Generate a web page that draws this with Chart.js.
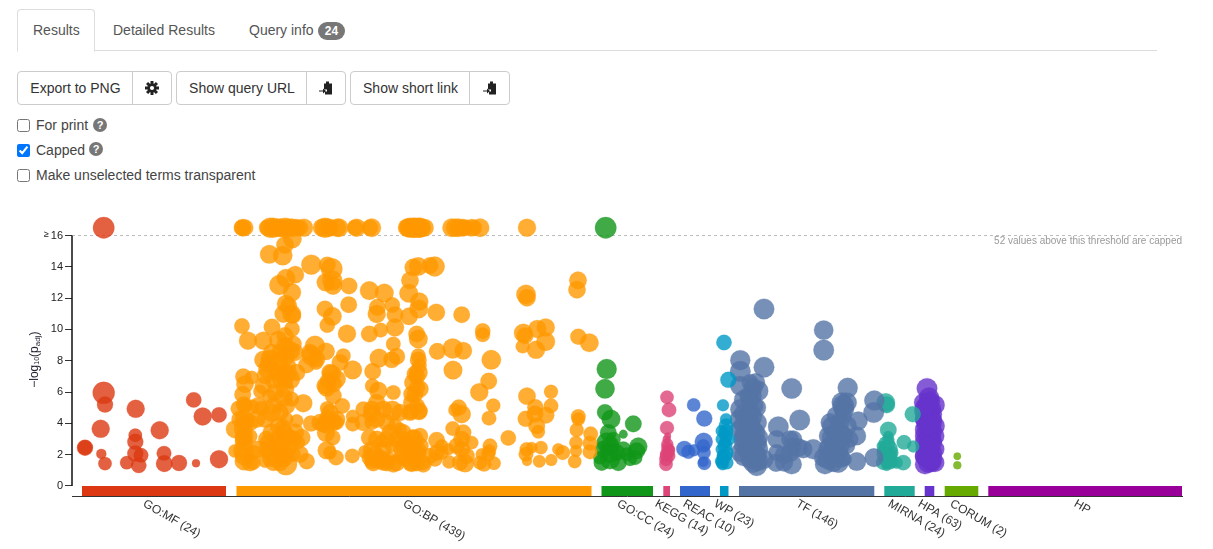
<!DOCTYPE html>
<html>
<head>
<meta charset="utf-8">
<style>
html,body{margin:0;padding:0;background:#fff;overflow:hidden;}
body{width:1213px;height:549px;position:relative;font-family:"Liberation Sans",Arial,sans-serif;font-size:14px;color:#333;}
.abs{position:absolute;white-space:nowrap;}
.tabline{left:17px;top:50px;width:1140px;height:1px;background:#ddd;}
.tab{left:17px;top:9px;width:76px;height:41px;border:1px solid #ddd;border-bottom:1px solid #fff;border-radius:4px 4px 0 0;background:#fff;}
.tabtxt{top:22px;color:#555;line-height:16px;}
.badge{left:318px;top:22px;width:27px;height:18px;border-radius:9px;background:#777;color:#fff;font-weight:bold;font-size:12px;line-height:18px;text-align:center;}
.btn{top:71px;height:32px;border:1px solid #ccc;background:#fff;color:#333;line-height:32px;text-align:center;box-sizing:content-box;}
.l{border-radius:4px 0 0 4px;}
.r{border-radius:0 4px 4px 0;}
.btn svg{position:absolute;left:50%;top:50%;transform:translate(-50%,-50%);}
input{position:absolute;left:17px;margin:0;width:13px;height:13px;}
.lbl{left:36px;line-height:16px;color:#444;}
.q{width:14px;height:14px;border-radius:50%;background:#777;color:#fff;font-size:11px;font-weight:bold;line-height:14px;text-align:center;}
canvas{position:absolute;left:0;top:201px;}
</style>
</head>
<body>
<div class="abs tabline"></div>
<div class="abs tab"></div>
<div class="abs tabtxt" style="left:33px">Results</div>
<div class="abs tabtxt" style="left:113px">Detailed Results</div>
<div class="abs tabtxt" style="left:249px">Query info</div>
<div class="abs badge">24</div>

<div class="abs btn l" style="left:17px;width:115px">Export to PNG</div>
<div class="abs btn r" style="left:132px;width:38px"><svg width="14" height="14" viewBox="-7 -7 14 14"><g fill="#222"><circle r="4.6"/><rect x="-1.5" y="-7" width="3" height="14"/><rect x="-1.5" y="-7" width="3" height="14" transform="rotate(45)"/><rect x="-1.5" y="-7" width="3" height="14" transform="rotate(90)"/><rect x="-1.5" y="-7" width="3" height="14" transform="rotate(135)"/></g><circle r="2.1" fill="#fff"/></svg></div>
<div class="abs btn l" style="left:176px;width:130px">Show query URL</div>
<div class="abs btn r" style="left:306px;width:38px"><svg width="14" height="15" viewBox="0 0 14 15"><path fill="#222" d="M5 3h2V1h3v2h3v11H6v-3h2V9H5z"/><path fill="#222" d="M0 10h4V8l3 2.500-3 2.500v-2H0z"/></svg></div>
<div class="abs btn l" style="left:350px;width:119px">Show short link</div>
<div class="abs btn r" style="left:469px;width:39px"><svg width="14" height="15" viewBox="0 0 14 15"><path fill="#222" d="M5 3h2V1h3v2h3v11H6v-3h2V9H5z"/><path fill="#222" d="M0 10h4V8l3 2.500-3 2.500v-2H0z"/></svg></div>

<input type="checkbox" style="top:119px">
<div class="abs lbl" style="top:117px">For print</div>
<div class="abs q" style="left:93px;top:118px">?</div>
<input type="checkbox" checked style="top:144px">
<div class="abs lbl" style="top:142px">Capped</div>
<div class="abs q" style="left:89px;top:142px">?</div>
<input type="checkbox" style="top:169px">
<div class="abs lbl" style="top:167px">Make unselected terms transparent</div>

<canvas id="c" width="1213" height="349" style="width:1213px;height:349px"></canvas>

<script src="https://cdn.jsdelivr.net/npm/chart.js@4"></script>
<script>
// Each term: [position along the source axis, -log10(p_adj), term-size]
const goMfTerms = [[31.7,16.5,10.7],[31.7,5.95,11],[33,5.2,8],[28.7,3.65,9],[13,2.45,8],[13,2.45,7.3],[29.3,2.05,5],[33,1.43,6.7],[63.7,4.93,9],[63.3,3.24,6.7],[63.3,2.82,8],[63.3,2.07,8],[69,1.96,7.3],[66.7,1.32,7.7],[54.7,1.49,6.7],[87.7,3.56,9],[92,2.09,7.3],[92.3,1.43,8.3],[107,1.47,8],[124,1.45,4],[121.7,5.5,7.7],[130.7,4.44,9],[147,4.54,7.7],[147,1.71,9]];
const goBpCapped = [[170.7,16.5,8.7],[173,16.5,8.3],[198,16.5,10],[201.3,16.5,10],[208,16.5,9.3],[213,16.5,10],[219.7,16.5,9.3],[224.7,16.5,8.7],[232,16.5,9],[253,16.5,10],[256.3,16.5,9.3],[267,16.5,9.3],[284.7,16.5,9],[299.7,16.5,9.3],[336.3,16.5,9.3],[341.3,16.5,10],[346.3,16.5,10],[338,16.5,10],[343,16.5,10],[348,16.5,10],[353,16.5,8.7],[379.7,16.5,9.3],[386.3,16.5,9.3],[391.3,16.5,8.7],[399.7,16.5,8.7],[408,16.5,9.3],[455,16.5,9],[195,16.5,8],[205,16.5,9],[211,16.5,8],[216,16.5,9],[222,16.5,8],[228,16.5,8],[170,16.5,8],[250,16.5,9],[258,16.5,8],[265,16.5,9],[283,16.5,8],[298,16.5,8],[335,16.5,9],[339,16.5,9],[345,16.5,9],[350,16.5,9],[383,16.5,9],[389,16.5,8],[393,16.5,8],[402,16.5,8]];
const goBpTerms = [[170,10.22,7.7],[176,9.28,9],[191.3,9.28,9],[197.3,14.8,9.3],[210.7,14.72,9.7],[220.3,15.79,9.3],[213,15.4,8.7],[207.3,12.84,10],[214,13.27,9.3],[223.3,13.5,8.7],[220,12.37,9],[214,11.63,9],[216.7,11.52,8.3],[211.3,10.99,8.7],[219.7,10.99,9.3],[221.3,10.88,7.7],[220,10.03,7.7],[200,10.15,8.3],[206.3,9.32,9],[213,8.96,8.7],[221.3,9.07,8.3],[218.7,8.64,9.3],[191.3,8.06,9],[198,8.11,9.3],[206.3,7.89,10],[214.7,7.68,9.3],[196.3,7.47,10],[201.3,6.72,8],[193,7.04,8.3],[218,6.83,10],[171.3,7,8],[173,6.51,8.7],[179.7,6.93,6.7],[170.7,5.85,8.3],[188,6.04,6.7],[197.3,5.72,7.3],[213,6.19,9],[211.3,5.65,9.3],[214.7,5.12,8.3],[219.7,5.55,7.3],[231.3,5.29,9],[166.3,4.95,7.7],[179.7,5.06,7.3],[173,5.12,7.3],[189.7,4.97,7.3],[199.7,4.69,9.3],[214.7,4.27,6.7],[224.7,4.16,6.7],[163,3.63,9],[172,4.27,9],[174.7,4.16,8.3],[171.3,3.63,9.3],[178,3.16,7.3],[171.3,2.99,8.3],[199.7,3.41,9],[211.3,3.73,8.3],[223,3.41,9],[229.7,3.09,8.7],[218,3.2,6.7],[226.3,2.77,6.7],[163,2.24,6.7],[171.3,2.24,10],[181.3,2.13,7.7],[172,1.6,9.3],[181.3,1.49,7.3],[198,2.24,9.3],[193,1.6,6.7],[206.3,2.56,9],[201.3,1.49,8.3],[213,2.03,9.3],[221.3,2.03,7.3],[214,1.39,11],[234.7,1.58,8],[239,3.99,8],
[239.3,14.14,10],[255.3,14.12,8.3],[259.7,13.87,10.7],[253.7,13.01,9],[260.3,13.12,10],[261,12.8,9],[277,12.78,8.3],[276.7,11.58,8.3],[253,11.31,8.3],[260.3,10.84,9.3],[255.3,10.28,7.7],[275,9.73,9],[243,8.96,10],[254,8.6,8.7],[239.7,8.32,10],[234.7,7.74,8.3],[244,7.89,7.3],[271.3,8.32,7.3],[268,7.89,8.3],[280.7,7.42,9.3],[259.7,7.15,9.3],[264.7,6.83,9],[256.3,6.72,8.3],[254.7,6.29,9],[261.3,5.76,8.3],[270.3,5.12,7.7],[255.3,4.95,7.3],[254.7,4.37,7.3],[251.3,3.95,8.3],[264.7,4.05,7.3],[254.7,3.95,9.3],[280.7,4.44,6.7],[280.7,3.95,7.3],[260.7,3.09,7.7],[254.7,2.28,9],[264,1.81,7.7],[258,2.13,6.7],[280.3,1.92,7.3],
[297.3,12.48,9.3],[312.3,12.33,9.3],[297.3,9.71,8.3],[308.7,9.96,7.3],[305.3,11.41,8.3],[304.7,10.99,9],[320.3,11.56,7.7],[323,10.94,8.3],[323,10.13,9],[321.3,9.07,7.3],[324.7,8.28,8.3],[307,8.17,9.3],[319.7,8.06,8.3],[300.7,7.32,8.3],[300.3,6.4,7.3],[306.3,6.08,9],[291.3,4.91,7.7],[299.7,4.91,8.3],[321.3,5.97,7.3],[320.3,4.8,10],[299.7,4.05,7.3],[323,3.84,7.3],[297.3,3.09,8.3],[293,2.18,6.7],[309.7,2.88,6.7],[306.3,1.71,9.3],[319.7,2.56,6.7],[311.3,2.35,8.3],[321.3,1.39,8.3],[328,3.63,6.7],[298,1.81,8.3],[341.3,3.09,7.3],[338,2.45,8.3],[339.7,1.49,9.3],[331.3,1.71,6.7],[351.3,1.39,8.3],[346.3,8.32,7.3],
[341.3,13.97,8.7],[346.3,14.02,9.3],[338,13.14,8.7],[336.7,12.31,9.3],[347.3,11.78,9],[346.7,11.31,9.3],[337,10.84,8.7],[344.7,9.71,8.3],[346.3,9.39,9.3],[346.3,8.04,8.3],[347.3,7.68,7.3],[343,7.15,8.3],[341.3,6.61,9],[339.7,5.87,8.3],[347.3,4.8,8.3],[338.7,4.74,7.7],[358,14.08,8.3],
[362.7,14.02,10],[364.3,11.09,8.7],[365.3,8.6,8.3],[380.7,8.79,10],[391.3,8.64,8.7],[389.7,10.94,8.3],[381,7.4,9.3],[410.7,9.9,7.7],[410.7,9.66,7.3],[419.3,8.06,9.7],[416.7,6.7,8.3],[407.3,5.99,9],[421.3,5.14,7],[417,4.33,7.3],[386.7,5.01,8],[389.7,4.59,9],[383,4.86,6.7],[380.7,3.67,7.3],[364.7,2.92,8.3],[369.7,2.56,6.7],[376.3,2.35,6],[389.7,2.99,8.3],[399.7,2.77,6.7],[389.7,2.35,8.3],[393,1.45,9],[377,1.54,6.7],[363,1.71,7.3],[409.7,2.03,6],[418,2.56,7.3],[417.3,2.24,6.7],[412,1.39,7.3],[422,1.45,6.7],[436.3,3.07,7.7],
[454,12.24,9.7],[455,12.03,8.7],[451.3,9.77,9.3],[453,9.6,8.3],[465.3,10.03,9],[473.7,10.13,9],[473.7,9.22,9.3],[450.7,8.92,7],[464,8.7,9],[455,5.74,8.7],[463.3,5.03,8],[453.7,4.29,8],[463,4.59,8.3],[474,4.52,8.3],[479,6.02,7],[479,5.12,7.3],[464.7,3.84,8.3],[466.3,3.46,6.7],[454,2.03,7.3],[459.7,2.45,5.7],[469,2.45,6.7],[455,1.6,5],[467.3,1.58,6.3],[479.3,1.66,6],[486.3,2.35,6],[490.7,2.13,7.3],[506,13.14,8.7],[505,12.54,8.7],[506.3,9.54,8],[517.3,9.15,9.3],[506.3,4.44,7.3],[506.3,4.27,6.7],[504.7,3.58,7],[504,2.77,6.7],[504,2.24,6],[502.7,1.56,6.7],[518.7,3.33,7.3],[518,2.73,7.3],[518,2.18,7.3],
[341.3,2.99,10],[334.7,2.77,8.3],[344.7,2.24,10],[339,1.49,8.3],[351.3,1.49,7.3],[331.3,3.41,8.3],[338,4.69,8.3],[347,4.74,8.3],[346.3,7.25,9.3],[343,5.87,8.3],
[172,3.2,9],[172,2.8,9],[172,1.9,9],[172,5.2,8],[171,3.9,8],[212,2.9,9],[212,3.4,9],[209,2.2,9],[212,1.8,9],[216,7.2,9],[214,8.3,9],[213,6.7,8],[206,3,9],[218,2.5,8],[300,2.3,9],[303,2,9],[300,4.6,9],[300,1.6,8],[309,1.7,9],[345,6.3,8],[345,7,8],[345,5.1,8],[197,7.8,9],[196,2.8,8],[199,1.8,9],[254,3.4,9],[344,2,9],[340,1.9,8],[316,1.7,8],[330,1.9,8],[311,1.5,8],
[168,4.27,8.5],[178,4.05,8.5],[184.7,4.27,8.5],[186.3,5.12,8.5],[193,4.27,8.5],[194.7,2.99,8.5],[206.3,3.84,8.5],[208,4.69,8.5],[201.3,5.12,8.5],[203,5.97,8.5],[191.3,6.4,8.5],[208,6.83,8.5],[213,7.25,8.5],[204.7,7.25,8.5],[199.7,8.53,8.5],[208,8.53,8.5],[213,9.6,8.5],[224.7,7.25,8.5],[223,8.53,8.5],[186.3,2.35,8.5],[178,1.49,8.5],[208,1.49,8.5],[194.7,2.35,8.5],[221.3,2.99,8.5],[228,2.03,8.5],
[291.3,4.05,8.5],[304.7,4.27,8.5],[311.3,4.91,8.5],[304.7,5.33,8.5],[328,4.69,8.5],[314.7,4.05,8.5],[304.7,2.99,8.5],[318,3.41,8.5],[314.7,1.49,8.5],[329.7,2.35,8.5],[301.3,1.49,8.5],[324.7,1.49,8.5],[344.7,2.13,8.5],[344.7,1.49,8.5],[348,2.56,8.5],[348,6.19,8.5],[339.7,5.33,8.5],[314.7,2.99,8.5],[324.7,2.99,8.5],[331.3,2.99,8.5],[258,4.69,8.5],[261.3,4.05,8.5],[248,4.05,8.5],[264.7,4.27,8.5],[258,7.25,8.5],[261.3,6.51,8.5],[253,6.4,8.5],[238,8.53,8.5],[244.7,8.11,8.5],
[384.7,2.56,8],[394.7,1.92,8],[388,1.49,8],[391.3,3.41,8],[331.3,2.56,8],[348,3.2,8],[358,1.92,8],[364.7,2.13,8],[369.7,2.13,7],[454.7,2.35,7],[408,1.49,7],[416.3,2.03,7]];
const goCcTerms = [[533.7,16.5,10.7],[534.7,7.47,10],[533,6.21,9.7],[533,4.71,8],[539,4.27,9.3],[561.3,3.97,8.3],[536.3,3.41,8.3],[551.3,3.31,4.3],[534.7,2.77,10],[531.3,2.35,8.3],[538,2.13,10],[529.7,1.49,8],[544.7,2.13,8.3],[538,1.71,10],[546.3,1.49,8.3],[551.3,2.35,7.7],[558,1.71,6.7],[563,1.81,7.3],[566.3,2.52,9],[564.7,2.24,8.3],[541.3,2.99,7.3],[528,1.81,6.7],[554.7,2.03,6.7],[538,2.56,9.3]];
const keggTerms = [[595,5.67,6.7],[597,4.86,7.3],[595,3.71,7],[595.3,2.67,6],[596.3,2.24,6.7],[594.7,2.03,6.7],[594,1.71,6.7],[594,1.39,6.7],[597.3,1.92,6],[593,1.92,5],[595.3,2.45,6],[598,2.35,5],[594.7,2.99,4],[595.7,3.2,3.3]];
const reacTerms = [[621.7,5.18,6.7],[632.3,4.31,8],[631.7,2.82,9],[612.3,2.37,8],[616.3,2.18,7],[622,2.28,6],[632,2.13,6.7],[632.3,1.45,6.7],[631.3,1.54,5],[631.3,2.56,6.7]];
const wpTerms = [[652,9.17,7.7],[656.3,6.78,8],[651,5.16,6],[654,4.27,6],[654,3.84,7.3],[649.7,3.52,6],[654.7,3.52,6.7],[656.3,2.99,6.7],[649.7,2.99,6],[653,2.56,7.3],[649.7,2.35,6],[654.7,2.13,6.7],[651.3,1.71,6.7],[648,1.6,5],[654.7,1.49,6.7],[650.7,1.39,6],[654,3.2,6.7],[651.3,2.03,6],[649.7,1.92,5],[655.3,1.92,5],[651.3,3.41,5],[653,2.77,6],[649.7,1.49,6]];
const tfTerms = [[692,11.31,10.3],[751.7,9.96,9.7],[751.7,8.68,10.3],[668.3,8.04,10],[692,7.59,10.3],[719.7,6.23,10.3],[775.7,6.27,10],[668.3,7.32,10.3],[668,6.4,9.7],[678,6.61,8.3],[683.7,6.61,9.3],[686.3,6.08,10],[684.7,5.01,9.3],[668.3,4.91,10],[681.3,5.12,10],[676.3,5.76,9],[681.3,5.76,8.3],[668,4.27,10],[684.7,4.05,10],[674.7,4.27,9.3],[668,3.63,9.3],[683,3.41,10],[684.7,2.77,10],[669.7,2.99,8.3],[674.7,2.35,10],[668,2.13,9.3],[684.7,1.92,10],[681.3,1.49,10],[691.3,1.71,10],[684.7,1.28,10],[706.3,3.78,10.3],[727.7,4.22,10.3],[704.7,2.99,9],[721.3,2.99,8.7],[726.3,2.45,9.3],[731.3,2.35,9],[741.3,2.35,10],[704.7,2.13,8.3],[718,2.13,9.3],[704,1.49,9],[719.7,1.39,10],[769.7,5.33,10],[771.3,5.12,10.7],[774.7,5.33,10],[786.3,4.16,9.3],[784.7,3.2,9.3],[758,4.05,9.3],[756.3,3.2,9.3],[771.3,4.48,8.3],[768,4.05,9.3],[774.7,3.84,10],[764.7,2.99,9.3],[778,2.99,8.3],[756.3,2.35,10],[766.3,2.13,10],[774.7,2.56,8.3],[751.3,1.81,9.3],[753,1.39,10],[766.3,1.49,10],[784.7,1.56,9.3],[773,1.71,6.7],[802.3,5.46,10],[801.7,4.69,10.3],[802,1.81,9.3],[678,4.69,10],[678,3.2,10],[679.7,2.56,9.3],[678,4.05,10],[681.3,6.29,9.3],[763,3.41,9.3],[763,2.56,9.3],[771.3,3.2,9.3],[678,5.55,9.3],[678,1.71,9.3],[761.3,1.49,9.3],[758,2.56,9.3],[718,2.99,8.7],[672,5.5,10],[672,4.6,10],[672,3.9,10],[672,3.2,10],[672,2.6,10],[672,1.9,10],[680,4.4,10],[680,3.6,10],[680,2.9,10],[680,2.2,10],[686,3.1,10],[686,2.4,10],[686,1.6,10],[760,3.8,10],[760,3.1,10],[760,2.2,10],[768,3.4,10],[768,2.6,10],[768,1.8,10],[756,1.7,10],[772,4.9,10],[764,4.5,9],[720,2.5,9],[712,2,9],[712,1.5,9]];
const mirnaTerms = [[813.7,5.33,9.3],[814.7,5.18,8.3],[840.7,4.59,8],[816.3,3.58,8.3],[832,2.79,7.3],[841.3,2.52,6],[814.7,2.67,8.3],[809.7,2.56,5],[816.3,2.35,9.3],[813,2.03,8.3],[818,1.92,7.3],[811.3,1.49,7.3],[831.3,1.49,7.7],[824.7,1.49,6],[816.3,1.71,8.3],[819.7,2.13,6.7],[814.7,1.28,5],[816.3,2.99,6],[813,1.71,6.7],[818,1.49,6.7],[809.7,2.24,5],[821.3,1.49,5],[814.7,1.39,5],[816.3,3.2,5]];
const hpaTerms = [[855,6.23,10.3],[857,5.65,10],[863,5.18,9.7],[851.3,5.33,9.3],[853,4.8,10.7],[859.7,4.91,9.3],[856.3,4.27,10],[863,3.84,9.7],[854.7,3.84,10],[853,3.2,10],[863,3.2,9.3],[856.3,2.77,9.3],[853,2.35,9.3],[863,2.35,9.3],[851.3,1.92,8.3],[858,1.92,10],[863,1.49,9.3],[853,1.39,10],[856.3,1.49,10],[861.3,4.27,8.3],[854.7,5.12,10],[858,3.63,9.3],[851.3,4.27,8.3],[856.3,3.2,9.3],[858,2.35,9.3],[854.7,1.81,10],[858,4.59,9.3],[856.3,5.33,9.3],[859.7,2.99,9.3],[854.7,2.35,9.3],[859.7,1.49,9.3],[853,4.3,10],[860,4.6,10],[860,4.1,10],[853,3.6,10],[860,3.5,10],[860,2.8,10],[853,2.8,10],[860,2.1,10],[853,1.9,10],[858,5.4,10],[853,5,10],[860,1.7,10],[857,3,10],[857,2.5,10],[857,3.9,10]];
const corumTerms = [[885.3,1.9,3.7],[885.3,1.32,4]];

const sourceNames = ["GO:MF (24)","GO:BP (439)","GO:CC (24)","KEGG (14)","REAC (10)","WP (23)","TF (146)","MIRNA (24)","HPA (63)","CORUM (2)","HP"];
const sourceStart = [10,164.5,529.5,591.3,608,648,667,812.3,852.7,872.7,916.3];
const sourceEnd = [154,519.5,581,598,638,656.5,802.3,842.7,862.3,906.3,1110];
const sourceColors = ["#dc3912","#ff9900","#109618","#dd4477","#3366cc","#0099c6","#5574a6","#22aa99","#6633cc","#66aa00","#990099"];
const sourceLabelAt = [72,332,546,584,612,643,725,817,847,879,1003];
const yTicks = [0,2,4,6,8,10,12,14,16];
const capThreshold = 16;
const axisLength = 1110;
const cappedNote = "52 values above this threshold are capped";

const seriesTerms = [goMfTerms, goBpCapped.concat(goBpTerms), goCcTerms, keggTerms, reacTerms, wpTerms, tfTerms, mirnaTerms, hpaTerms, corumTerms];

function rgba(hex,a){const n=parseInt(hex.slice(1),16);return `rgba(${n>>16},${(n>>8)&255},${n&255},${a})`;}

const datasets = [];
seriesTerms.forEach((terms,i)=>{
  datasets.push({type:'bubble',label:sourceNames[i],
    data:terms.map(t=>({x:t[0],y:t[1],r:t[2]})),
    backgroundColor:rgba(sourceColors[i],0.8),
    borderColor:rgba(sourceColors[i],0.2),
    borderWidth:1,hoverBorderWidth:1,clip:false,order:2});
});
sourceNames.forEach((n,i)=>{
  datasets.push({type:'line',label:n+' band',
    data:[{x:sourceStart[i],y:-0.32},{x:sourceEnd[i],y:-0.32}],
    borderColor:sourceColors[i],borderWidth:10,pointRadius:0,borderCapStyle:'butt',clip:false,order:1});
});
datasets.push({type:'line',label:'cap',data:[{x:0,y:capThreshold},{x:axisLength,y:capThreshold}],
  borderColor:'#bbb',borderWidth:1,borderDash:[3,3],pointRadius:0,clip:false,order:3});
datasets.push({type:'line',label:'yaxis',data:[{x:0,y:0},{x:0,y:capThreshold}],
  borderColor:'#111',borderWidth:1.5,pointRadius:0,clip:false,order:0});

const overlay = {
  id:'overlay',
  afterDraw(chart){
    const c=chart.ctx, xs=chart.scales.x, ys=chart.scales.y;
    c.save();
    c.fillStyle='#333';c.font='12px "Liberation Sans",Arial,sans-serif';c.textAlign='left';c.textBaseline='middle';
    sourceNames.forEach((n,i)=>{
      c.save();
      c.translate(xs.getPixelForValue(sourceLabelAt[i]),ys.bottom+7);
      c.rotate(Math.PI/6);
      c.fillText(n,0,0);
      c.restore();
    });
    c.fillStyle='#222';c.font='9px "Liberation Sans",Arial,sans-serif';c.textAlign='left';c.textBaseline='middle';
    c.fillText('≥',xs.left-28,ys.getPixelForValue(16)-1);
    c.fillStyle='#999';c.font='10px "Liberation Sans",Arial,sans-serif';c.textAlign='right';c.textBaseline='middle';
    c.fillText(cappedNote,xs.right,ys.getPixelForValue(16)+6);
    c.save();
    c.translate(xs.left-34,ys.getPixelForValue(8)+27);
    c.rotate(-Math.PI/2);
    c.fillStyle='#223';c.textAlign='left';c.textBaseline='alphabetic';
    let px=0;
    [['−log','12px',0],['10','7px',1],['(p','12px',0],['adj','8px',2],[')','12px',0]].forEach(([t,f,d])=>{
      c.font=f+' "Liberation Sans",Arial,sans-serif';
      c.fillText(t,px,d);
      px+=c.measureText(t).width;
    });
    c.restore();
    c.restore();
  }
};

new Chart(document.getElementById('c'),{
  data:{datasets},
  plugins:[overlay],
  options:{
    responsive:false,animation:false,devicePixelRatio:1,
    layout:{padding:{left:0,right:31,top:3.75,bottom:54}},
    plugins:{legend:{display:false},tooltip:{enabled:false}},
    events:[],
    scales:{
      x:{type:'linear',min:0,max:axisLength,
        grid:{display:false,drawTicks:false},
        border:{display:true,color:'#333',width:1},
        ticks:{display:false},
        afterFit(s){s.height=0;}},
      y:{type:'linear',min:-0.64,max:17.44,
        afterBuildTicks(s){s.ticks=yTicks.map(v=>({value:v}));},
        afterFit(s){s.width=72;},
        grid:{drawOnChartArea:false,drawTicks:true,tickLength:7,color:'#333',lineWidth:1},
        border:{display:false},
        ticks:{padding:2,color:'#222',font:{family:'"Liberation Sans",Arial,sans-serif',size:11},autoSkip:false}}
    }
  }
});
</script>
</body>
</html>
